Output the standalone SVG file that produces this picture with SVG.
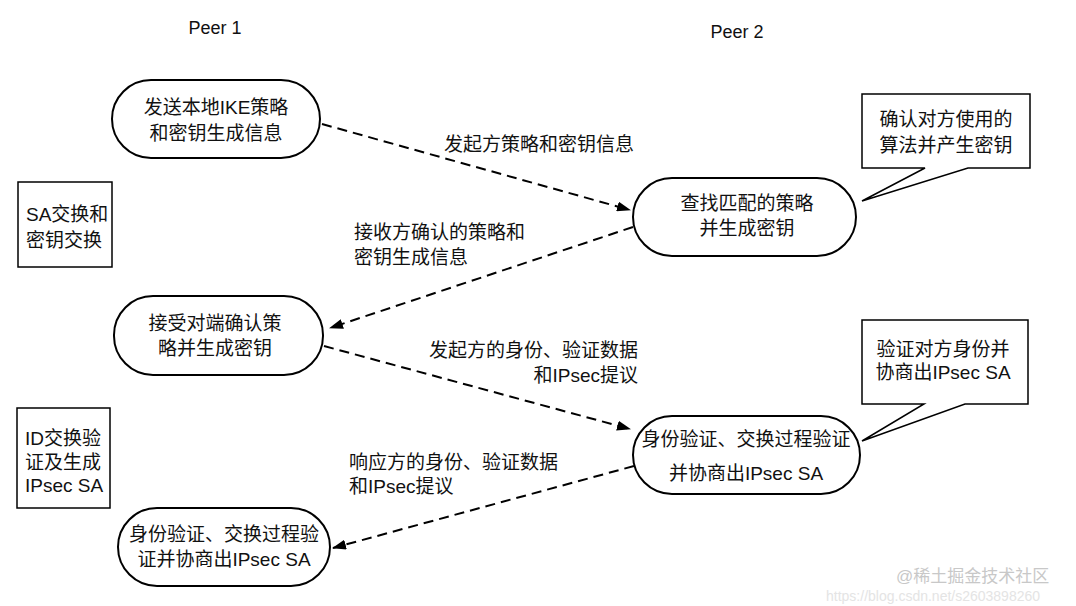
<svg xmlns="http://www.w3.org/2000/svg" width="1076" height="606" viewBox="0 0 1076 606">
<defs>
<marker id="ah" markerWidth="14" markerHeight="10" refX="13" refY="5" orient="auto" markerUnits="userSpaceOnUse">
<path d="M0,0 L14,5 L0,10 z" fill="#000"/>
</marker>
<style>
text{font-family:"Liberation Sans","Noto Sans CJK SC",sans-serif;font-size:19px;fill:#111}
.c{text-anchor:middle}
.e{text-anchor:end}
.pill{fill:#fff;stroke:#000;stroke-width:2}
.box{fill:#fff;stroke:#000;stroke-width:1.5}
.conn{fill:none;stroke:#000;stroke-width:2;stroke-dasharray:10 6;marker-end:url(#ah)}
.hdr{font-size:18px}
.wm{font-size:17px;fill:#c8c8c8}
.wm2{font-size:14px;fill:#e4e4e4}
</style>
</defs>
<rect width="1076" height="606" fill="#fff"/>
<text class="c hdr" x="215" y="34">Peer 1</text>
<text class="c hdr" x="737" y="38">Peer 2</text>

<g id="n1"><rect class="pill" x="112" y="80" width="208" height="78" rx="39"/>
<text class="c" x="216" y="114">发送本地IKE策略</text><text class="c" x="216" y="140">和密钥生成信息</text></g>

<g id="n2"><rect class="pill" x="633" y="178" width="223" height="78" rx="39"/>
<text class="c" x="747" y="210">查找匹配的策略</text><text class="c" x="747" y="235">并生成密钥</text></g>

<g id="c1"><path class="box" d="M862,94 H1030 V168 H968 L862,201 L925,168 H862 Z"/>
<text class="c" x="946" y="126">确认对方使用的</text><text class="c" x="946" y="152">算法并产生密钥</text></g>

<g id="sa"><rect class="box" x="18" y="182" width="94" height="85"/>
<text x="26" y="221">SA交换和</text><text x="26" y="247">密钥交换</text></g>

<g id="n3"><rect class="pill" x="114" y="296" width="209" height="79" rx="39"/>
<text class="c" x="215" y="330">接受对端确认策</text><text class="c" x="215" y="355">略并生成密钥</text></g>

<g id="c2"><path class="box" d="M862,320 H1028 V404 H965 L862,441 L924,404 H862 Z"/>
<text class="c" x="943" y="356">验证对方身份并</text><text class="c" x="943" y="379">协商出IPsec SA</text></g>

<g id="n4"><rect class="pill" x="633" y="416" width="227" height="78" rx="39"/>
<text class="c" x="746" y="446">身份验证、交换过程验证</text><text class="c" x="746" y="480">并协商出IPsec SA</text></g>

<g id="id"><rect class="box" x="17" y="408" width="93" height="100"/>
<text x="25" y="445">ID交换验</text><text x="25" y="469">证及生成</text><text x="25" y="492">IPsec SA</text></g>

<g id="n5"><rect class="pill" x="118" y="508" width="212" height="78" rx="39"/>
<text class="c" x="224" y="541">身份验证、交换过程验</text><text class="c" x="224" y="566">证并协商出IPsec SA</text></g>

<g id="connectors">
<line class="conn" x1="322" y1="124" x2="630" y2="210"/>
<line class="conn" x1="633" y1="227" x2="330" y2="328"/>
<line class="conn" x1="324" y1="346" x2="630" y2="429"/>
<line class="conn" x1="634" y1="466" x2="333" y2="548"/>
<text x="444" y="151">发起方策略和密钥信息</text>
<text x="354" y="239">接收方确认的策略和</text>
<text x="354" y="264">密钥生成信息</text>
<text class="e" x="638" y="357">发起方的身份、验证数据</text>
<text class="e" x="638" y="382">和IPsec提议</text>
<text x="349" y="469">响应方的身份、验证数据</text>
<text x="349" y="493">和IPsec提议</text>
</g>
<text class="wm" x="896" y="582">@稀土掘金技术社区</text>
<text class="wm2" x="826" y="601">https://blog.csdn.net/s2603898260</text>
</svg>
